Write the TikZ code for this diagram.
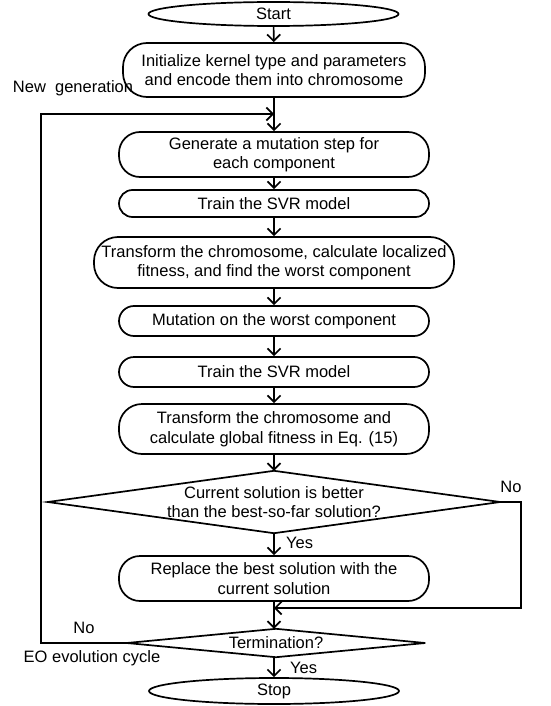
\documentclass[tikz,border=0pt]{standalone}
\usepackage{fontspec}
\setmainfont{Liberation Sans}
\usetikzlibrary{arrows.meta,shapes.geometric}
\begin{document}
\begin{tikzpicture}[x=1pt,y=-1pt,
  every node/.style={font=\fontsize{16.5}{19.5}\selectfont},
  proc/.style={draw, line width=1.7pt, rounded corners=#1, align=center, inner sep=0pt, minimum width=310pt},
  proc/.default=14pt,
  term/.style={draw, ellipse, line width=1.7pt, inner sep=0pt, minimum width=250pt},
  dec/.style={align=center, inner sep=0pt},
  conn/.style={line width=1.7pt, -{Straight Barb[length=6.5pt,width=13pt]}},
  plain/.style={line width=1.7pt},
  lbl/.style={inner sep=0pt}
]
\useasboundingbox (0,0) rectangle (550,706);

\node[term, minimum height=24pt] (start) at (273.5,14) {Start};
\node[proc=24pt, minimum width=302pt, minimum height=54pt] (init) at (274,70) {Initialize kernel type and parameters\\and encode them into chromosome};
\node[proc=21pt, minimum height=45pt] (gen) at (274,154.5) {Generate a mutation step for\\each component};
\node[proc=13.5pt, minimum height=27pt] (tr1) at (274,203.5) {Train the SVR model};
\node[proc=24pt, minimum width=360pt, minimum height=51pt] (xf1) at (274,262.5) {Transform the chromosome, calculate localized\\fitness, and find the worst component};
\node[proc=15pt, minimum height=30pt] (mut) at (274,321) {Mutation on the worst component};
\node[proc=15pt, minimum height=30pt] (tr2) at (274,372) {Train the SVR model};
\node[proc=23pt, minimum height=50pt] (xf2) at (274,429) {Transform the chromosome and\\calculate global fitness in Eq. (15)};
\node[dec, minimum width=452pt, minimum height=62pt] (d1) at (274,502) {Current solution is better\\than the best-so-far solution?};
\draw[plain] (d1.north) -- (d1.east) -- (d1.south) -- (d1.west) -- cycle;
\node[proc=21pt, minimum height=45pt] (rep) at (274,578.5) {Replace the best solution with the\\current solution};
\node[dec, minimum width=298pt, minimum height=28pt] (tm) at (276,643) {Termination?};
\draw[plain] (tm.north) -- (tm.east) -- (tm.south) -- (tm.west) -- cycle;
\node[term, minimum height=26pt] (stop) at (274,691) {Stop};

\coordinate (loopin) at (274,114);
\coordinate (lc) at (41,114);
\coordinate (rc) at (521,608);
\coordinate (merge) at (274,608);

\draw[conn] (start) -- (init);
\draw[conn] (init) -- (gen);
\draw[conn] (gen) -- (tr1);
\draw[conn] (tr1) -- (xf1);
\draw[conn] (xf1) -- (mut);
\draw[conn] (mut) -- (tr2);
\draw[conn] (tr2) -- (xf2);
\draw[conn] (xf2) -- (d1.north);
\draw[conn] (d1.south) -- (rep);
\draw[conn] (rep.south) -- (rep.south |- tm.north);
\draw[conn] (tm.south -| stop) -- (stop);
\draw[conn] (tm.west) -| (lc) -- (loopin);
\draw[conn] (d1.east) -| (rc) -- (merge);

\node[lbl] (ng) at (73,88) {New\ \ generation};
\node[lbl] (no1) at (511,487) {No};
\node[lbl, anchor=west] (yes1) at (286,543) {Yes};
\node[lbl] (no2) at (84,628) {No};
\node[lbl] (eo) at (92,658) {EO evolution cycle};
\node[lbl, anchor=west] (yes2) at (290,668) {Yes};
\end{tikzpicture}
\end{document}
